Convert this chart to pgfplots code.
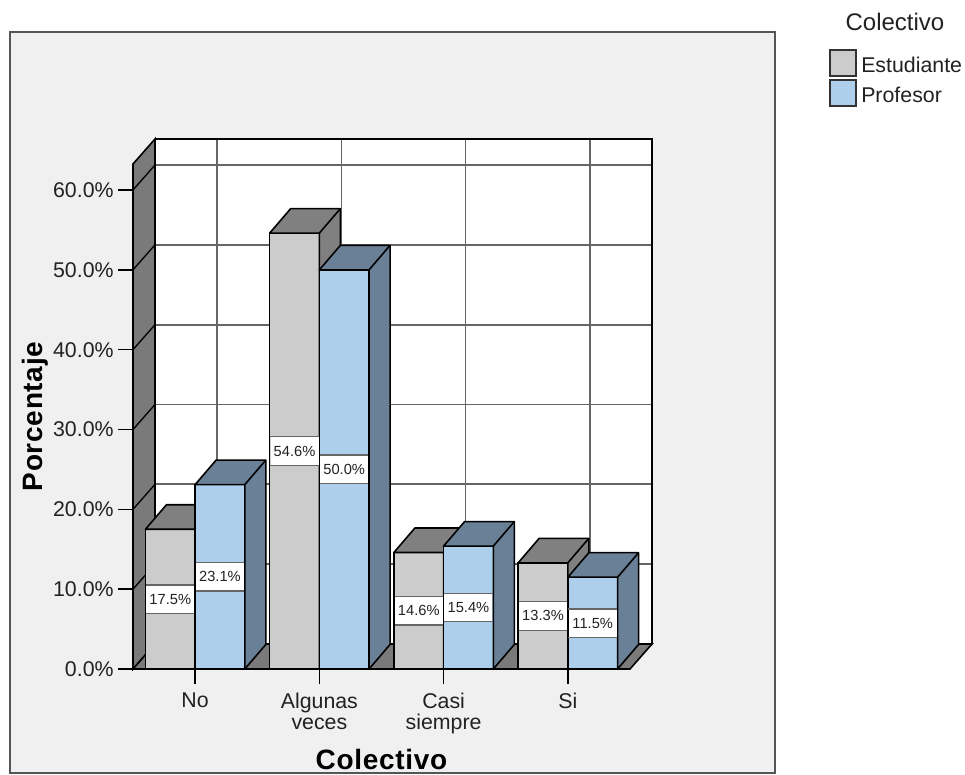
\documentclass[border=0pt]{standalone}
\usepackage{fontspec}
\setmainfont{Liberation Sans}
\newfontfamily\labfont[LetterSpace=2.5]{Liberation Sans}
\usepackage{pgfplots}
\usepackage{pgfplotstable}
\pgfplotsset{compat=1.18}

\definecolor{estF}{HTML}{CCCCCC}
\definecolor{estS}{HTML}{808080}
\definecolor{profF}{HTML}{AECFEC}
\definecolor{profS}{HTML}{6A8096}
\definecolor{wallc}{HTML}{7A7A7A}
\definecolor{gridc}{HTML}{666666}
\definecolor{bgc}{HTML}{F0F0F0}
\definecolor{framec}{HTML}{555555}
\definecolor{txt}{HTML}{222222}

\pgfplotstableread{
x est prof
0 17.5 23.1
1 54.6 50.0
2 14.6 15.4
3 13.3 11.5
}\datatab

\def\bdx{15.75pt}\def\bdy{18.375pt}\def\bW{37.275pt}
\def\wdx{16.5pt}\def\wdy{18.75pt}
% #1 left offset of the bar, #2 front colour, #3 side/top colour
\newcommand\drawbar[3]{%
  \pgfmathsetlengthmacro\hh{\val*5.9875pt}%
  \pgfmathsetlengthmacro\hhalf{-\val*5.9875pt/2}%
  \pgfmathsetlengthmacro\cx{#1+18.6375pt}%
  \pgfmathsetlengthmacro\rx{#1+37.275pt}%
  \filldraw[fill=#2, draw=black, line width=1.2pt, line join=round] (#1,0pt) rectangle (\rx,-\hh);
  \filldraw[fill=#3, draw=black, line width=1.2pt, line join=round]
    (#1,0pt) -- ++(\bdx,\bdy) -- ++(\bW,0pt) -- ++(0pt,-\hh) -- ++(-\bdx,-\bdy) -- (\rx,0pt) -- cycle;
  \draw[black, line width=1.2pt] (\rx,0pt) -- ++(\bdx,\bdy);
  \node[fill=white, minimum width=36pt, minimum height=21pt, inner sep=0pt,
        font=\fontsize{11}{12}\selectfont, text=txt] (lab) at (\cx,\hhalf)
        {\pgfmathprintnumber[fixed,fixed zerofill,precision=1]{\val}\%};
  \draw[gridc, line width=1pt] (lab.north west) -- (lab.north east);
  \draw[gridc, line width=1pt] (lab.south west) -- (lab.south east);
}
\pgfdeclareplotmark{barE}{\drawbar{-37.275pt}{estF}{estS}}
\pgfdeclareplotmark{barP}{\drawbar{0pt}{profF}{profS}}

\begin{document}
\begin{tikzpicture}
\path[use as bounding box] (0pt,0pt) rectangle (723.75pt,-581.25pt);
\fill[white] (0pt,0pt) rectangle (723.75pt,-581.25pt);
\filldraw[fill=bgc, draw=framec, line width=1.2pt] (7.5pt,-24pt) rectangle (581.25pt,-579.75pt);
\begin{axis}[
  at={(99.75pt,-501.75pt)}, anchor=south west,
  x=93.1875pt, y=5.9875pt,
  xmin=-0.5, xmax=3.5, ymin=0, ymax=63.26,
  clip=false,
  axis x line*=bottom, axis y line*=left,
  axis line style={-, black, line width=1.2pt},
  tick align=outside, major tick length=11pt,
  tick style={black, line width=1.2pt},
  xtick={0,1,2,3},
  xticklabels={No,{Algunas\\veces},{Casi\\siempre},Si},
  xticklabel style={align=center, font=\fontsize{16}{15.5}\selectfont, text=txt, yshift=-3.5pt},
  ytick={0,10,...,60},
  yticklabel={\pgfmathprintnumber[fixed,fixed zerofill,precision=1]{\tick}\%},
  yticklabel style={font=\fontsize{16}{18}\selectfont, text=txt},
  /pgf/number format/assume math mode=true,
  xlabel={Colectivo}, ylabel={Porcentaje},
  every axis x label/.style={at={(axis description cs:0.5,0)}, anchor=base, yshift=-75pt,
     font=\labfont\bfseries\fontsize{21}{24}\selectfont, text=black},
  every axis y label/.style={at={([xshift=-73.5pt]axis description cs:0,0.5)}, rotate=90, anchor=center,
     font=\labfont\bfseries\fontsize{21}{24}\selectfont, text=black},
  legend style={at={(axis description cs:1.4004,1.2277)}, anchor=north west, draw=none, fill=none,
     inner sep=0pt, row sep=1.5pt, font=\fontsize{16}{18}\selectfont, text=txt,
     nodes={inner sep=0pt},
     /tikz/every odd column/.append style={column sep=3pt}},
  legend cell align=left,
  legend image code/.code={\draw[#1, /tikz/.cd, draw=black!80, line width=1.5pt] (0pt,-8.05pt) rectangle (19.5pt,11.45pt);},
]
% back wall and grid
\fill[white] ([shift={(\wdx,\wdy)}]axis cs:-0.5,0) rectangle ([shift={(\wdx,\wdy)}]axis cs:3.5,63.26);
\pgfplotsinvokeforeach{10,20,30,40,50,60}{
  \draw[gridc, line width=1.3pt] ([shift={(\wdx,\wdy)}]axis cs:-0.5,#1) -- ([shift={(\wdx,\wdy)}]axis cs:3.5,#1);}
\pgfplotsinvokeforeach{0,1,2,3}{
  \draw[gridc, line width=1.3pt] ([shift={(\wdx,\wdy)}]axis cs:#1,0) -- ([shift={(\wdx,\wdy)}]axis cs:#1,63.26);}
\draw[black, line width=1.2pt] ([shift={(\wdx,\wdy)}]axis cs:-0.5,63.26) -- ([shift={(\wdx,\wdy)}]axis cs:3.5,63.26) -- ([shift={(\wdx,\wdy)}]axis cs:3.5,0);
% side wall
\filldraw[fill=wallc, draw=black, line width=1.2pt] (axis cs:-0.5,0) -- (axis cs:-0.5,63.26) -- ([shift={(\wdx,\wdy)}]axis cs:-0.5,63.26) -- ([shift={(\wdx,\wdy)}]axis cs:-0.5,0) -- cycle;
\pgfplotsinvokeforeach{10,20,30,40,50,60}{
  \draw[black, line width=1pt] (axis cs:-0.5,#1) -- ([shift={(\wdx,\wdy)}]axis cs:-0.5,#1);}
% floor
\filldraw[fill=wallc, draw=black, line width=1.2pt] (axis cs:-0.5,0) -- (axis cs:3.5,0) -- ([shift={(\wdx,\wdy)}]axis cs:3.5,0) -- ([shift={(\wdx,\wdy)}]axis cs:-0.5,0) -- cycle;

\addplot[ybar, bar width=0.4, bar shift=-0.2, fill=estF, draw=black, line width=1.2pt] table[x=x, y=est]{\datatab};
\addlegendentry{Estudiante}
\addplot[forget plot, only marks, mark=barE, visualization depends on={rawy \as \val}] table[x=x, y=est]{\datatab};
\addplot[ybar, bar width=0.4, bar shift=0.2, fill=profF, draw=black, line width=1.2pt] table[x=x, y=prof]{\datatab};
\addlegendentry{Profesor}
\addplot[forget plot, only marks, mark=barP, visualization depends on={rawy \as \val}] table[x=x, y=prof]{\datatab};
\end{axis}
\node[anchor=base, font=\fontsize{18}{20}\selectfont, text=txt] at (671.25pt,-22.5pt) {Colectivo};
\end{tikzpicture}
\end{document}
